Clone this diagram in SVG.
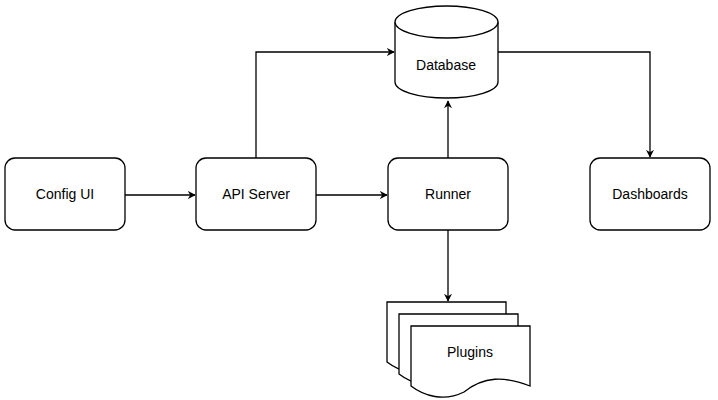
<svg xmlns="http://www.w3.org/2000/svg" width="718" height="400" viewBox="0 0 718 400">
<style>
.n{fill:#fff;stroke:#000;stroke-width:1.3}
.t{font-family:"Liberation Sans",Arial,sans-serif;font-size:14px;text-anchor:middle;dominant-baseline:central;fill:#000}
.e{fill:none;stroke:#000;stroke-width:1.3;marker-end:url(#a)}
</style>
<defs><marker id="a" viewBox="0 0 10 10" refX="9" refY="5" markerWidth="8" markerHeight="8" markerUnits="userSpaceOnUse" orient="auto"><path d="M0,0 L10,5 L0,10 L3,5 z" fill="#000"/></marker></defs>
<rect width="718" height="400" fill="#fff"/>
<g id="edges">
<path class="e" d="M125,195 H195"/>
<path class="e" d="M316,195 H387"/>
<path class="e" d="M256,158 V52 H394"/>
<path class="e" d="M448,158 V101"/>
<path class="e" d="M498,52 H650 V157"/>
<path class="e" d="M448,230 V301"/>
</g>
<g id="config"><rect class="n" x="5" y="158" width="120" height="72" rx="10"/><text class="t" x="65" y="194">Config UI</text></g>
<g id="api"><rect class="n" x="196" y="158" width="120" height="72" rx="10"/><text class="t" x="256" y="194">API Server</text></g>
<g id="runner"><rect class="n" x="388" y="158" width="120" height="72" rx="10"/><text class="t" x="448" y="194">Runner</text></g>
<g id="dash"><rect class="n" x="590" y="158" width="120" height="72" rx="10"/><text class="t" x="650" y="194">Dashboards</text></g>
<g id="db">
<path class="n" d="M395,22 A51.5,16 0 0 1 498,22 V82 A51.5,16 0 0 1 395,82 Z"/>
<path class="n" d="M395,22 A51.5,16 0 0 0 498,22"/>
<text class="t" x="446" y="65">Database</text>
</g>
<g id="plugins">
<path class="n" d="M387,302 H506 V362 C480,352 460,352 440,368 C420,378 400,372 387,362 Z"/>
<path class="n" d="M399,314 H518 V374 C492,364 472,364 452,380 C432,390 412,384 399,374 Z"/>
<path class="n" d="M411,326 H530 V386 C504,376 484,376 464,392 C444,402 424,396 411,386 Z"/>
<text class="t" x="470" y="352">Plugins</text>
</g>
</svg>
